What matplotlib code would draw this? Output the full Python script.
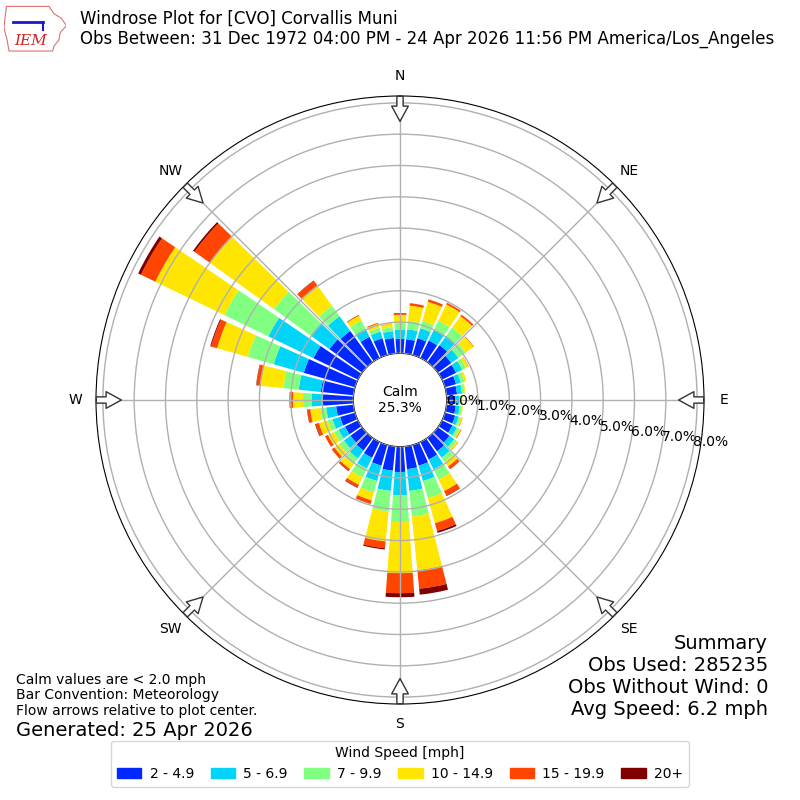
import numpy as np
import matplotlib
matplotlib.use("Agg")
import matplotlib.pyplot as plt
from matplotlib.patches import Patch, Polygon

# direction bins (deg, meteorological) and percent of obs per speed bin
directions = np.arange(0, 360, 10)
speed_bins = ["2 - 4.9", "5 - 6.9", "7 - 9.9", "10 - 14.9", "15 - 19.9", "20+"]
colors = ["#0028ff", "#00d4f8", "#80ff80", "#ffe600", "#ff4500", "#800000"]

s2_5 = [0.46, 0.46, 0.56, 0.62, 0.67, 0.53, 0.50, 0.37, 0.34, 0.27, 0.30, 0.34,
        0.37, 0.46, 0.53, 0.62, 0.69, 0.73, 0.81, 0.78, 0.69, 0.56, 0.50, 0.46,
        0.46, 0.50, 0.56, 0.97, 1.05, 1.70, 1.58, 1.29, 1.23, 0.75, 0.56, 0.50]
s5_7 = [0.29, 0.32, 0.33, 0.37, 0.37, 0.28, 0.22, 0.16, 0.16, 0.13, 0.13, 0.12,
        0.16, 0.19, 0.25, 0.35, 0.51, 0.70, 0.74, 0.65, 0.51, 0.38, 0.31, 0.26,
        0.23, 0.25, 0.32, 0.36, 0.71, 1.00, 1.60, 0.74, 0.58, 0.29, 0.22, 0.22]
s7_10 = [0.22, 0.27, 0.24, 0.33, 0.32, 0.29, 0.13, 0.12, 0.09, 0.06, 0.07, 0.07,
         0.09, 0.10, 0.16, 0.36, 0.57, 0.82, 0.86, 0.66, 0.38, 0.32, 0.23, 0.19,
         0.16, 0.16, 0.19, 0.28, 0.49, 0.86, 1.56, 1.44, 0.41, 0.29, 0.13, 0.13]
s10_15 = [0.26, 0.49, 0.64, 0.58, 0.45, 0.30, 0.09, 0.07, 0.03, 0.04, 0.03, 0.05,
          0.05, 0.05, 0.19, 0.41, 0.83, 1.73, 1.63, 0.96, 0.26, 0.26, 0.19, 0.19,
          0.22, 0.29, 0.32, 0.32, 0.74, 1.02, 2.45, 2.52, 0.80, 0.17, 0.13, 0.11]
s15_20 = [0.06, 0.08, 0.08, 0.06, 0.06, 0.02, 0.01, 0.00, 0.00, 0.00, 0.00, 0.01,
          0.02, 0.01, 0.10, 0.16, 0.26, 0.59, 0.64, 0.22, 0.11, 0.09, 0.06, 0.10,
          0.10, 0.11, 0.10, 0.10, 0.13, 0.20, 0.51, 0.61, 0.19, 0.03, 0.03, 0.01]
s20p = [0.00, 0.00, 0.00, 0.00, 0.00, 0.00, 0.00, 0.00, 0.00, 0.00, 0.00, 0.00,
        0.00, 0.00, 0.01, 0.02, 0.06, 0.19, 0.13, 0.04, 0.01, 0.02, 0.02, 0.00,
        0.00, 0.02, 0.01, 0.01, 0.01, 0.03, 0.10, 0.06, 0.01, 0.00, 0.00, 0.00]
series = [s2_5, s5_7, s7_10, s10_15, s15_20, s20p]

calm_pct = 25.3
rticks = np.arange(0, 9, 1)
compass = ["N", "NE", "E", "SE", "S", "SW", "W", "NW"]

fig = plt.figure(figsize=(8, 8), dpi=100)
ax = fig.add_axes([0.12, 0.12, 0.76, 0.76], projection="polar")
ax.set_theta_zero_location("N")
ax.set_theta_direction(-1)

theta = np.deg2rad(directions)
bottom = np.zeros(len(directions))
for vals, col in zip(series, colors):
    vals = np.array(vals)
    ax.bar(theta, vals, width=np.deg2rad(8.4), bottom=bottom, color=col,
           linewidth=0, zorder=1)
    bottom += vals

ax.set_rorigin(-1.49)
ax.set_ylim(0, 8.22)
ax.set_rgrids(rticks, [f"{v:.1f}%" for v in rticks], fontsize=10)
ax.set_rlabel_position(99.5)
ax.set_thetagrids(np.arange(0, 360, 45), [""] * 8)
ax.grid(True, color="#b0b0b0", linewidth=1, zorder=2)
ax.set_axisbelow(False)

# direction labels and inward flow arrows
for i, lab in enumerate(compass):
    t = np.deg2rad(i * 45)
    ax.text(t, 8.87, lab, ha="center", va="center", fontsize=10, clip_on=False)
    ax.annotate("", xy=(t, 7.32), xytext=(t, 8.3), xycoords="data",
                annotation_clip=False,
                arrowprops=dict(arrowstyle="simple,head_length=1.1,head_width=1.2,tail_width=0.45",
                                fc="white", ec="#333333", lw=1))

ax.text(0, -1.49, f"Calm\n{calm_pct:.1f}%", ha="center", va="center", fontsize=10)

# header
fig.text(0.1, 0.976, "Windrose Plot for [CVO] Corvallis Muni", fontsize=12, va="center")
fig.text(0.1, 0.952, "Obs Between: 31 Dec 1972 04:00 PM - 24 Apr 2026 11:56 PM America/Los_Angeles",
         fontsize=12, va="center")

# simple IEM logo
lax = fig.add_axes([0.005, 0.935, 0.078, 0.06])
lax.set_xlim(0, 1)
lax.set_ylim(0, 1)
lax.axis("off")
iowa = [(0.04, 0.95), (0.72, 0.95), (0.80, 0.80), (0.92, 0.70), (1.0, 0.55), (0.90, 0.40),
        (0.88, 0.25), (0.80, 0.12), (0.78, 0.02), (0.08, 0.02), (0.05, 0.25), (0.0, 0.5), (0.02, 0.75)]
lax.add_patch(Polygon(iowa, closed=True, fill=False, ec="#e07070", lw=0.8))
lax.text(0.42, 0.22, "IEM", color="#d42020", fontsize=11, family="serif", style="italic",
         ha="center", va="center")
lax.plot([0.15, 0.62], [0.62, 0.62], color="#1a1ac8", lw=2)
lax.plot([0.62, 0.62], [0.62, 0.45], color="#1a1ac8", lw=1.5)

# footnotes
fig.text(0.02, 0.159, "Calm values are < 2.0 mph\nBar Convention: Meteorology\nFlow arrows relative to plot center.",
         fontsize=10, va="top", linespacing=1.15)
fig.text(0.02, 0.087, "Generated: 25 Apr 2026", fontsize=14, va="center")
fig.text(0.96, 0.207, "Summary\nObs Used: 285235\nObs Without Wind: 0\nAvg Speed: 6.2 mph",
         fontsize=14, ha="right", va="top", linespacing=1.2)

handles = [Patch(color=c, label=l) for c, l in zip(colors, speed_bins)]
fig.legend(handles=handles, loc="lower center", bbox_to_anchor=(0.5, 0.008), ncol=6,
           title="Wind Speed [mph]", fontsize=10, title_fontsize=10,
           handlelength=1.75, handletextpad=0.6, columnspacing=1.2)

fig.savefig("out.png", dpi=100)
